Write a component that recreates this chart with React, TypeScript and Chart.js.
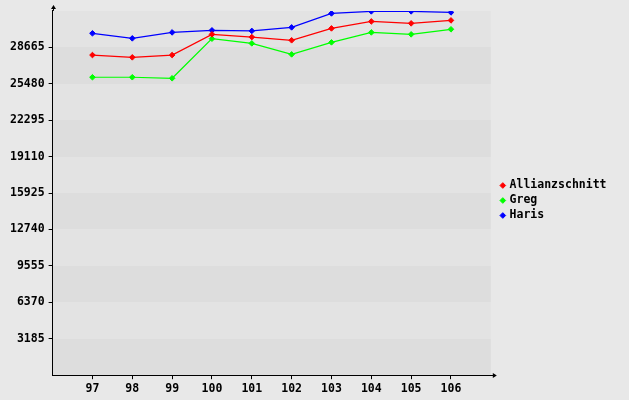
import React, { useEffect, useRef } from 'react';
import { Chart, registerables } from 'chart.js';

Chart.register(...registerables);

const categories = [97, 98, 99, 100, 101, 102, 103, 104, 105, 106];
const seriesNames = ['Allianzschnitt', 'Greg', 'Haris'];
const allianzschnitt = [27990, 27790, 27990, 29800, 29560, 29280, 30320, 30930, 30760, 31020];
const greg = [26050, 26050, 25960, 29420, 29010, 28050, 29100, 29970, 29800, 30240];
const haris = [29890, 29450, 29970, 30150, 30100, 30410, 31630, 31810, 31810, 31720];
const yTicks = [3185, 6370, 9555, 12740, 15925, 19110, 22295, 25480, 28665];
const yMax = 31850;
const bandStep = 3185;
const seriesColors = ['#ff0000', '#00ff00', '#0000ff'];

const FONT = '"DejaVu Sans Mono", monospace';
const FSIZE = 11.5;

const bgPlugin = {
  id: 'bgBands',
  afterLayout(chart: any) {
    const lg = chart.legend;
    if (lg) {
      const dx = 7.5;
      const dy = -4;
      lg.left += dx;
      lg.right += dx;
      lg.top += dy;
      lg.bottom += dy;
    }
  },
  beforeDraw(chart: any) {
    const { ctx, chartArea, scales } = chart;
    ctx.save();
    ctx.fillStyle = '#e8e8e8';
    ctx.fillRect(0, 0, chart.width, chart.height);
    const y = scales.y;
    const n = Math.round(yMax / bandStep);
    for (let i = 0; i < n; i++) {
      const top = Math.round(y.getPixelForValue((i + 1) * bandStep));
      const bottom = Math.round(y.getPixelForValue(i * bandStep));
      ctx.fillStyle = i % 2 === 0 ? '#dddddd' : '#e3e3e3';
      ctx.fillRect(chartArea.left, top, chartArea.right - chartArea.left, bottom - top);
    }
    ctx.restore();
  },
  afterDraw(chart: any) {
    const { ctx, chartArea } = chart;
    ctx.save();
    ctx.strokeStyle = '#000';
    ctx.fillStyle = '#000';
    ctx.lineWidth = 1;
    const lx = Math.round(chartArea.left) + 0.5;
    const by = Math.round(chartArea.bottom) + 0.5;
    ctx.beginPath();
    ctx.moveTo(lx, chartArea.top);
    ctx.lineTo(lx, chartArea.top - 5);
    ctx.stroke();
    ctx.beginPath();
    ctx.moveTo(lx, chartArea.top - 6);
    ctx.lineTo(lx - 2.5, chartArea.top - 2);
    ctx.lineTo(lx + 2.5, chartArea.top - 2);
    ctx.closePath();
    ctx.fill();
    ctx.beginPath();
    ctx.moveTo(chartArea.right, by);
    ctx.lineTo(chartArea.right + 5, by);
    ctx.stroke();
    ctx.beginPath();
    ctx.moveTo(chartArea.right + 6, by);
    ctx.lineTo(chartArea.right + 2, by - 2.5);
    ctx.lineTo(chartArea.right + 2, by + 2.5);
    ctx.closePath();
    ctx.fill();
    ctx.restore();
  },
};

export default function App() {
  const ref = useRef<HTMLCanvasElement | null>(null);
  useEffect(() => {
    if (!ref.current) return;
    const all = [allianzschnitt, greg, haris];
    const chart = new Chart(ref.current, {
      type: 'line',
      data: {
        datasets: seriesNames.map((name, i) => ({
          label: name,
          data: categories.map((c, j) => ({ x: c, y: all[i][j] })),
          borderColor: seriesColors[i],
          backgroundColor: seriesColors[i],
          borderWidth: 1.2,
          pointStyle: 'rectRot',
          pointRadius: 2.8,
          pointBorderWidth: 1,
          pointHoverRadius: 2.8,
          tension: 0,
          fill: false,
        })),
      },
      options: {
        animation: false,
        responsive: false,
        maintainAspectRatio: false,
        layout: { padding: { left: 6, top: 10, bottom: 1, right: 20 } },
        plugins: {
          tooltip: { enabled: false },
          legend: {
            position: 'right',
            align: 'center',
            labels: {
              usePointStyle: true,
              boxWidth: 2,
              boxHeight: 4,
              padding: 3.5,
              color: '#000',
              font: { family: FONT, size: FSIZE, weight: 'bold' },
            },
          },
        },
        scales: {
          x: {
            type: 'linear',
            min: 96,
            max: 107,
            afterBuildTicks: (scale: any) => {
              scale.ticks = categories.map((v) => ({ value: v }));
            },
            ticks: {
              autoSkip: false,
              maxRotation: 0,
              padding: 3,
              color: '#000',
              font: { family: FONT, size: FSIZE, weight: 'bold' },
              callback: (v: any) => String(v),
            },
            grid: { drawOnChartArea: false, drawTicks: true, tickLength: 4, tickColor: '#000' },
            border: { display: true, color: '#000', width: 1 },
          },
          y: {
            type: 'linear',
            min: 0,
            max: yMax,
            afterBuildTicks: (scale: any) => {
              scale.ticks = yTicks.map((v) => ({ value: v }));
            },
            ticks: {
              padding: 4,
              color: '#000',
              font: { family: FONT, size: FSIZE, weight: 'bold' },
              callback: (v: any) => String(v),
            },
            grid: { drawOnChartArea: false, drawTicks: true, tickLength: 4, tickColor: '#000' },
            border: { display: true, color: '#000', width: 1 },
          },
        },
      } as any,
      plugins: [bgPlugin],
    });
    return () => chart.destroy();
  }, []);
  return (
    <div style={{ width: 629, height: 400, background: '#e8e8e8' }}>
      <style>{'body{margin:0;background:#e8e8e8}'}</style>
      <canvas ref={ref} width={629} height={400} style={{ display: 'block' }} />
    </div>
  );
}
